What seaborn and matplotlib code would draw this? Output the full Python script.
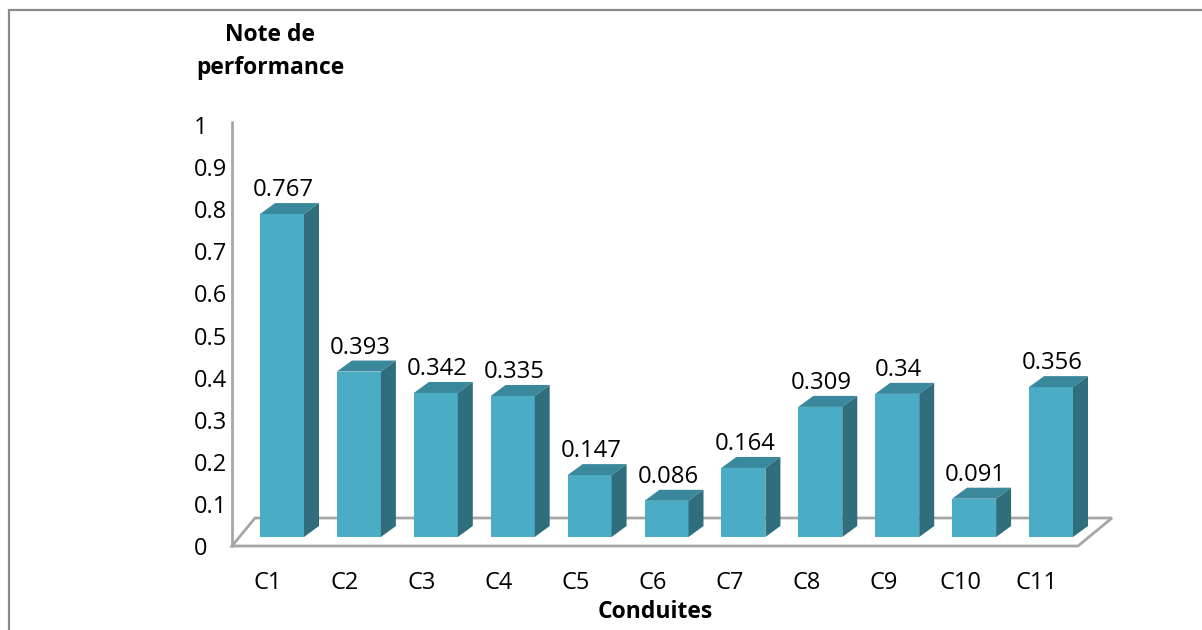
import matplotlib
matplotlib.use("Agg")
import matplotlib.pyplot as plt
import matplotlib.transforms as mtransforms
from matplotlib.patches import Polygon
from matplotlib.lines import Line2D
import seaborn as sns
import pandas as pd

categories = ["C1", "C2", "C3", "C4", "C5", "C6", "C7", "C8", "C9", "C10", "C11"]
values = [0.767, 0.393, 0.342, 0.335, 0.147, 0.086, 0.164, 0.309, 0.34, 0.091, 0.356]
value_labels = ["0.767", "0.393", "0.342", "0.335", "0.147", "0.086", "0.164", "0.309", "0.34", "0.091", "0.356"]
yticks = [0, 0.1, 0.2, 0.3, 0.4, 0.5, 0.6, 0.7, 0.8, 0.9, 1.0]
ytick_labels = ["0", "0.1", "0.2", "0.3", "0.4", "0.5", "0.6", "0.7", "0.8", "0.9", "1"]
y_title = ["Note de", "performance"]
x_title = "Conduites"

sns.set_theme(style="white")
plt.rcParams['font.family'] = ['Open Sans', 'DejaVu Sans']
plt.rcParams['text.color'] = 'black'
plt.rcParams['xtick.color'] = 'black'
plt.rcParams['ytick.color'] = 'black'
plt.rcParams['xtick.labelcolor'] = 'black'
plt.rcParams['ytick.labelcolor'] = 'black'

FRONT = "#4BACC6"
TOP = "#3A889C"
SIDE = "#306E7E"
GRID = "#A6A6A6"

W, H, DPI = 1202, 630, 100
fig = plt.figure(figsize=(W / DPI, H / DPI), dpi=DPI)
fig.patch.set_facecolor("white")

px_left, px_right, px_bottom, px_top = 232, 1112, 546, 125
x0_px, step = 268, 76.9
yscale = px_bottom - px_top  # px per unit
ax = fig.add_axes([px_left / W, 1 - px_bottom / H, (px_right - px_left) / W, (px_bottom - px_top) / H])

df = pd.DataFrame({"cat": categories, "val": values})
bw = 44 / step
sns.barplot(data=df, x="cat", y="val", color=FRONT, saturation=1, width=bw, ax=ax,
            edgecolor="none", linewidth=0, zorder=3)

xmin = (px_left - x0_px) / step
xmax = (px_right - x0_px) / step
ax.set_xlim(xmin, xmax)
ax.set_ylim(0, 1)
for s in ax.spines.values():
    s.set_visible(False)
ax.set_facecolor("none")

off = ax.transData + mtransforms.ScaledTranslation(14 / DPI, 9 / DPI, fig.dpi_scale_trans)
for p in ax.patches:
    p.set_transform(off)
    p.set_clip_on(False)

ddx = 15 / step
ddy = 11 / yscale
for i, v in enumerate(values):
    l, r = i - bw / 2, i + bw / 2
    top = Polygon([(l, v), (r, v), (r + ddx, v + ddy), (l + ddx, v + ddy)], closed=True,
                  facecolor=TOP, edgecolor="none", transform=off, clip_on=False, zorder=3)
    side = Polygon([(r, 0), (r + ddx, ddy), (r + ddx, v + ddy), (r, v)], closed=True,
                   facecolor=SIDE, edgecolor="none", transform=off, clip_on=False, zorder=3)
    ax.add_patch(top)
    ax.add_patch(side)
    ax.annotate(value_labels[i], xy=(i, v), xycoords=off, xytext=(1.0, 18 * 0.72),
                textcoords="offset points", ha="center", va="baseline", fontsize=17.2,
                color="black", zorder=5)

# floor
xr_front = (1078 - x0_px) / step
xl_back = (255 - x0_px) / step
yb = (px_bottom - 518) / yscale
floor = Polygon([(xmin, 0), (xr_front, 0), (xmax, yb), (xl_back, yb)], closed=True,
                facecolor="white", edgecolor=GRID, linewidth=2.0, transform=ax.transData,
                clip_on=False, zorder=1)
ax.add_patch(floor)
ax.add_line(Line2D([xmin, xmin], [0, (px_bottom - 122) / yscale], color=GRID, linewidth=2.0,
                   clip_on=False, zorder=2))

ax.set_yticks(yticks)
ax.set_yticklabels(ytick_labels)
ax.tick_params(axis="y", length=0, pad=38 * 0.72, labelsize=17, labelcolor="black")
for t in ax.get_yticklabels():
    t.set_horizontalalignment("left")
ax.set_xticks(range(len(categories)))
ax.set_xticklabels(categories)
ax.tick_params(axis="x", length=0, pad=25 * 0.72, labelsize=17, labelcolor="black")
ax.set_xlabel("")
ax.set_ylabel("")

fig.text(270 / W, 1 - 35 / H, y_title[0], ha="center", va="center", fontsize=16.5,
         fontweight="bold", color="black")
fig.text(270 / W, 1 - 68 / H, y_title[1], ha="center", va="center", fontsize=16.5,
         fontweight="bold", color="black")
fig.text(655 / W, 1 - 612 / H, x_title, ha="center", va="center", fontsize=16.5,
         fontweight="bold", color="black")

# outer frame
fig.add_artist(Line2D([9 / W, 1], [1 - 10 / H, 1 - 10 / H], transform=fig.transFigure,
                      color="#8C8C8C", linewidth=1.6))
fig.add_artist(Line2D([9 / W, 9 / W], [0, 1 - 10 / H], transform=fig.transFigure,
                      color="#8C8C8C", linewidth=1.6))

fig.savefig("out.png", dpi=DPI, facecolor="white")
